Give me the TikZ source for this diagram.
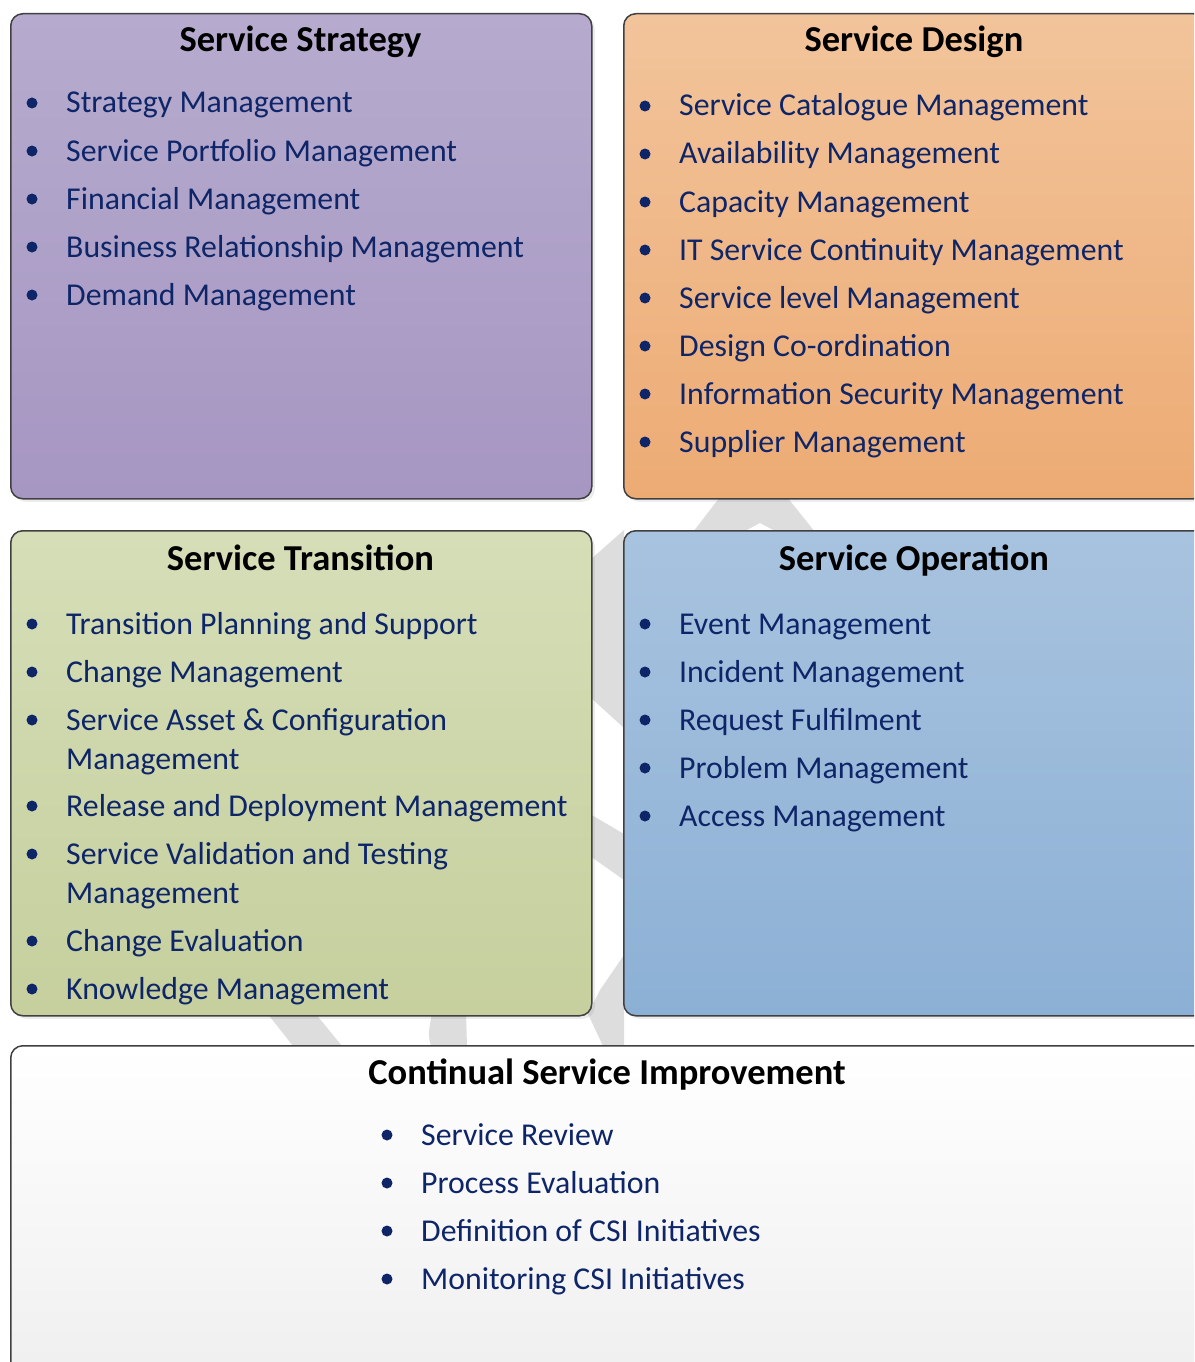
\documentclass[tikz,border=0pt]{standalone}
\usepackage{fontspec}
\setmainfont{Carlito}
\usetikzlibrary{shadows}
\definecolor{navy}{RGB}{14,37,104}
\definecolor{bordergray}{RGB}{64,64,64}
\definecolor{wmgray}{RGB}{221,221,221}
\definecolor{ssTop}{RGB}{182,171,206}
\definecolor{ssBot}{RGB}{166,150,194}
\definecolor{sdTop}{RGB}{242,196,155}
\definecolor{sdBot}{RGB}{237,171,116}
\definecolor{stTop}{RGB}{213,222,183}
\definecolor{stBot}{RGB}{198,207,157}
\definecolor{soTop}{RGB}{168,195,223}
\definecolor{soBot}{RGB}{140,176,213}
\definecolor{csiTop}{RGB}{255,255,255}
\definecolor{csiBot}{RGB}{238,238,238}
\newcommand\litem[4]{\fill[navy] (#2-34,#3-10) circle (5.5);\node[itm] (#1) at (#2,#3) {#4};}
\begin{document}
\begin{tikzpicture}[x=1pt,y=-1pt,
  panel/.style={draw=bordergray, line width=1.5pt, rounded corners=12pt, anchor=north west, inner sep=0pt,
    drop shadow={opacity=0.15, shadow xshift=3pt, shadow yshift=-3pt}},
  ttl/.style={font=\fontsize{36.5}{44}\selectfont\bfseries, text=black, anchor=base, inner sep=0pt},
  itm/.style={font=\fontsize{31.8}{39}\selectfont, text=navy, anchor=base west, inner sep=0pt},
  wm/.style={fill=wmgray, draw=none}]
\clip (0,0) rectangle (1194,1362);
% watermark fragments
\fill[wm] (720,497) -- (787,497) -- (815,532) -- (777,532) -- (760,523) -- (743,532) -- (693,532) -- cycle;
\fill[wm] (590,560) -- (624,530) -- (624,728) -- (590,697) -- cycle;
\fill[wm] (590,814) -- (624,834) -- (624,880) -- (590,856) -- cycle;
\fill[wm] (624,955) -- (624,1046) -- (603,1046) -- (588,1014) -- (600,990) -- cycle;
\fill[wm] (267,1013) -- (315,1013) -- (342,1046) -- (293,1046) -- cycle;
\fill[wm] (432,1013) -- (466,1013) -- (467,1046) -- (431,1046) .. controls (428,1035) .. (432,1013) -- cycle;
% panels
\node[panel, top color=ssTop, bottom color=ssBot, minimum width=581pt, minimum height=485pt] (ss) at (10,13) {};
\node[panel, top color=sdTop, bottom color=sdBot, minimum width=582pt, minimum height=485pt] (sd) at (623,13) {};
\node[panel, top color=stTop, bottom color=stBot, minimum width=581pt, minimum height=485pt] (st) at (10,530) {};
\node[panel, top color=soTop, bottom color=soBot, minimum width=582pt, minimum height=485pt] (so) at (623,530) {};
\node[panel, top color=csiTop, bottom color=csiBot, minimum width=1194pt, minimum height=360pt] (csi) at (10,1045) {};
% titles
\node[ttl] (ss-t) at (300.5,52) {Service Strategy};
\node[ttl] (sd-t) at (914,52) {Service Design};
\node[ttl] (st-t) at (300.5,570) {Service Transition};
\node[ttl] (so-t) at (914,570) {Service Operation};
\node[ttl] (csi-t) at (607,1084) {Continual Service Improvement};
% Service Strategy
\litem{ss1}{66}{113}{Strategy Management}
\litem{ss2}{66}{161}{Service Portfolio Management}
\litem{ss3}{66}{209}{Financial Management}
\litem{ss4}{66}{257}{Business Relationship Management}
\litem{ss5}{66}{305}{Demand Management}
% Service Design
\litem{sd1}{679}{116}{Service Catalogue Management}
\litem{sd2}{679}{164}{Availability Management}
\litem{sd3}{679}{212}{Capacity Management}
\litem{sd4}{679}{260}{IT Service Continuity Management}
\litem{sd5}{679}{308}{Service level Management}
\litem{sd6}{679}{356}{Design Co-ordination}
\litem{sd7}{679}{404}{Information Security Management}
\litem{sd8}{679}{452}{Supplier Management}
% Service Transition
\litem{st1}{66}{634}{Transition Planning and Support}
\litem{st2}{66}{682}{Change Management}
\litem{st3}{66}{730}{Service Asset \& Configuration}
\node[itm] (st3b) at (66,769) {Management};
\litem{st4}{66}{816}{Release and Deployment Management}
\litem{st5}{66}{864}{Service Validation and Testing}
\node[itm] (st5b) at (66,903) {Management};
\litem{st6}{66}{951}{Change Evaluation}
\litem{st7}{66}{999}{Knowledge Management}
% Service Operation
\litem{so1}{679}{634}{Event Management}
\litem{so2}{679}{682}{Incident Management}
\litem{so3}{679}{730}{Request Fulfilment}
\litem{so4}{679}{778}{Problem Management}
\litem{so5}{679}{826}{Access Management}
% CSI
\litem{csi1}{421}{1145}{Service Review}
\litem{csi2}{421}{1193}{Process Evaluation}
\litem{csi3}{421}{1241}{Definition of CSI Initiatives}
\litem{csi4}{421}{1289}{Monitoring CSI Initiatives}
\end{tikzpicture}
\end{document}
